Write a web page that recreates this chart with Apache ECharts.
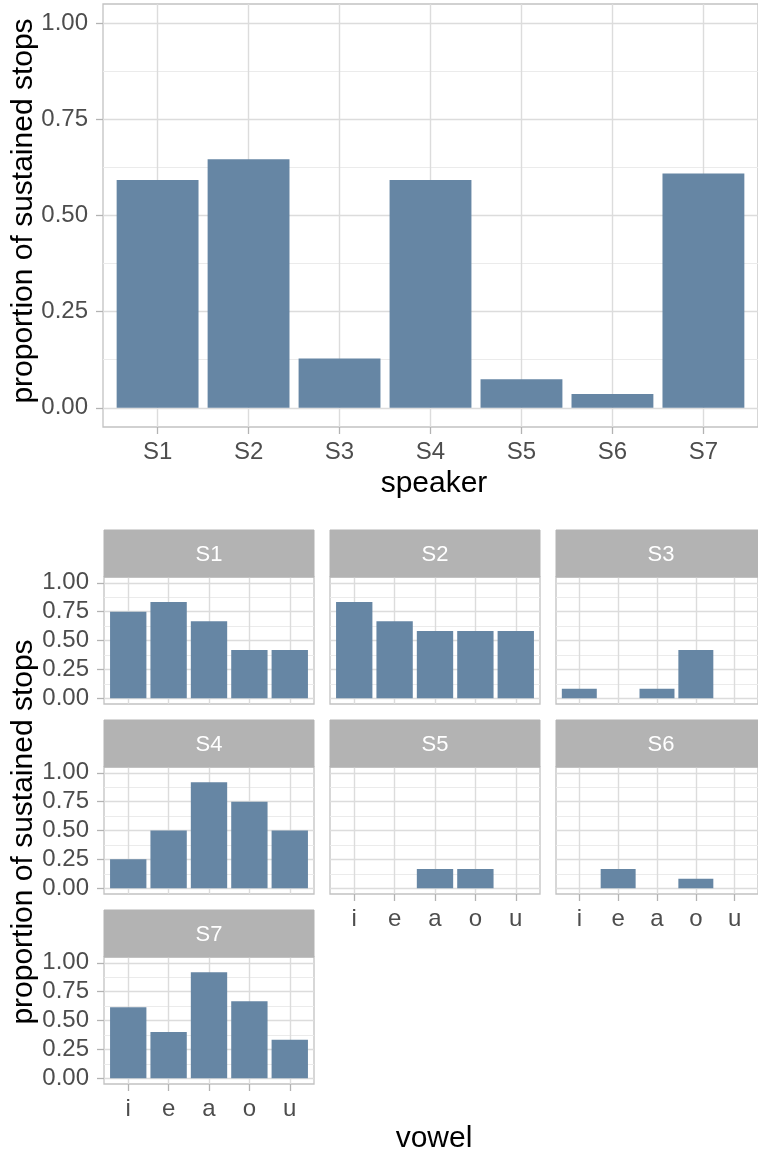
<!DOCTYPE html>
<html>
<head>
<meta charset="utf-8">
<script src="https://cdn.jsdelivr.net/npm/echarts@6/dist/echarts.min.js"></script>
<style>
  html, body { margin: 0; padding: 0; background: #ffffff; }
  #chart { width: 758px; height: 1154px; }
</style>
</head>
<body>
<div id="chart"></div>
<script>
// ---- data ----
const speakers = ['S1', 'S2', 'S3', 'S4', 'S5', 'S6', 'S7'];
const overallProp = [0.592, 0.646, 0.128, 0.592, 0.074, 0.036, 0.609];

const vowels = ['i', 'e', 'a', 'o', 'u'];
const propS1 = [0.75, 0.833, 0.667, 0.417, 0.417];
const propS2 = [0.833, 0.667, 0.583, 0.583, 0.583];
const propS3 = [0.083, 0, 0.083, 0.417, 0];
const propS4 = [0.25, 0.5, 0.917, 0.75, 0.5];
const propS5 = [0, 0, 0.167, 0.167, 0];
const propS6 = [0, 0.167, 0, 0.083, 0];
const propS7 = [0.615, 0.4, 0.917, 0.667, 0.333];
const facetValues = [propS1, propS2, propS3, propS4, propS5, propS6, propS7];

const yTicks = [0, 0.25, 0.5, 0.75, 1];
const yTickLabels = ['0.00', '0.25', '0.50', '0.75', '1.00'];
const yMinor = [0.125, 0.375, 0.625, 0.875];

// ---- styling / layout ----
const FONT = '"Liberation Sans", Arial, Helvetica, sans-serif';
const BAR = '#6686a4';
const GRID_MAJOR = '#dcdcdc';
const GRID_MINOR = '#ebebeb';
const BORDER = '#c2c2c2';
const TICK = '#b3b3b3';
const TEXT = '#4d4d4d';
const STRIP = '#b3b3b3';

const mainPanel = { left: 103, top: 4, width: 663, height: 423 };
const facetCols = [104, 330, 556];
const facetW = 210;
const facetRowTops = [530, 720, 910];
const stripH = 47;
const facetH = 127;

const grids = [], xAxes = [], yAxes = [], series = [], graphics = [];

// bar drawn through the axis scales: centred on category index, 0.9 wide
function barItem(params, api) {
  const x = api.value(0), v = api.value(1);
  const p0 = api.coord([x - 0.45, 0]);
  const p1 = api.coord([x + 0.45, v]);
  return {
    type: 'rect',
    shape: { x: p0[0], y: p1[1], width: p1[0] - p0[0], height: p0[1] - p1[1] },
    style: { fill: BAR }
  };
}

function addPanel(rect, cats, values, showX, showY) {
  const g = grids.length;
  const idx = cats.map((_, i) => i);
  grids.push({
    left: rect.left, top: rect.top, width: rect.width, height: rect.height,
    show: true, borderColor: BORDER, borderWidth: 1.3, backgroundColor: '#ffffff'
  });
  xAxes.push({
    type: 'value', gridIndex: g, min: -0.6, max: cats.length - 0.4, position: 'bottom',
    axisLine: { show: false, onZero: false },
    axisTick: { show: showX, customValues: idx, length: 7, lineStyle: { color: TICK, width: 1.3 } },
    axisLabel: {
      show: showX, customValues: idx, formatter: v => cats[Math.round(v)],
      margin: 13, fontSize: 24, color: TEXT, fontFamily: FONT
    },
    splitLine: { show: true, lineStyle: { color: GRID_MAJOR, width: 1.4 } }
  });
  yAxes.push({
    type: 'value', gridIndex: g, min: -0.05, max: 1.05, position: 'left',
    axisLine: { show: false, onZero: false },
    axisTick: { show: showY, customValues: yTicks, length: 7, lineStyle: { color: TICK, width: 1.3 } },
    axisLabel: {
      show: showY, customValues: yTicks,
      formatter: v => { const k = yTicks.indexOf(v); return k >= 0 ? yTickLabels[k] : v.toFixed(2); },
      margin: 15, fontSize: 24, color: TEXT, fontFamily: FONT
    },
    splitLine: { show: true, lineStyle: { color: GRID_MAJOR, width: 1.4 } }
  });
  // minor horizontal grid
  yAxes.push({
    type: 'value', gridIndex: g, min: -0.05, max: 1.05, position: 'left',
    axisLine: { show: false, onZero: false },
    axisTick: { show: false, customValues: yMinor },
    axisLabel: { show: false },
    splitLine: { show: true, lineStyle: { color: GRID_MINOR, width: 1 } }
  });
  series.push({
    type: 'custom', xAxisIndex: g, yAxisIndex: 2 * g,
    data: values.map((v, i) => [i, v]),
    encode: { x: 0, y: 1 },
    renderItem: barItem, silent: true, z: 3
  });
}

// overall panel
addPanel(mainPanel, speakers, overallProp, true, true);

// per-vowel facets, 3 columns
speakers.forEach((sp, k) => {
  const row = Math.floor(k / 3), col = k % 3;
  const left = facetCols[col];
  const top = facetRowTops[row];
  const showX = k + 3 >= speakers.length;
  const showY = col === 0;
  addPanel({ left: left, top: top + stripH, width: facetW, height: facetH }, vowels, facetValues[k], showX, showY);
  graphics.push({
    type: 'rect', silent: true, z: 10,
    shape: { x: left, y: top, width: facetW, height: stripH },
    style: { fill: STRIP, stroke: STRIP, lineWidth: 1 }
  });
  graphics.push({
    type: 'text', silent: true, z: 11, x: left + facetW / 2, y: top + stripH / 2 + 1,
    style: { text: sp, fill: '#ffffff', font: '22px ' + FONT, align: 'center', verticalAlign: 'middle' }
  });
});

// axis titles
const titleFont = '30px ' + FONT;
graphics.push({
  type: 'text', silent: true, x: 24, y: 211, rotation: Math.PI / 2,
  style: { text: 'proportion of sustained stops', fill: '#000', font: titleFont, align: 'center', verticalAlign: 'middle' }
});
graphics.push({
  type: 'text', silent: true, x: 434, y: 484,
  style: { text: 'speaker', fill: '#000', font: titleFont, align: 'center', verticalAlign: 'middle' }
});
graphics.push({
  type: 'text', silent: true, x: 24, y: 832, rotation: Math.PI / 2,
  style: { text: 'proportion of sustained stops', fill: '#000', font: titleFont, align: 'center', verticalAlign: 'middle' }
});
graphics.push({
  type: 'text', silent: true, x: 434, y: 1139,
  style: { text: 'vowel', fill: '#000', font: titleFont, align: 'center', verticalAlign: 'middle' }
});

const chart = echarts.init(document.getElementById('chart'), null, { renderer: 'canvas' });
chart.setOption({
  animation: false,
  backgroundColor: '#ffffff',
  textStyle: { fontFamily: FONT },
  grid: grids,
  xAxis: xAxes,
  yAxis: yAxes,
  series: series,
  graphic: { elements: graphics }
});
</script>
</body>
</html>
